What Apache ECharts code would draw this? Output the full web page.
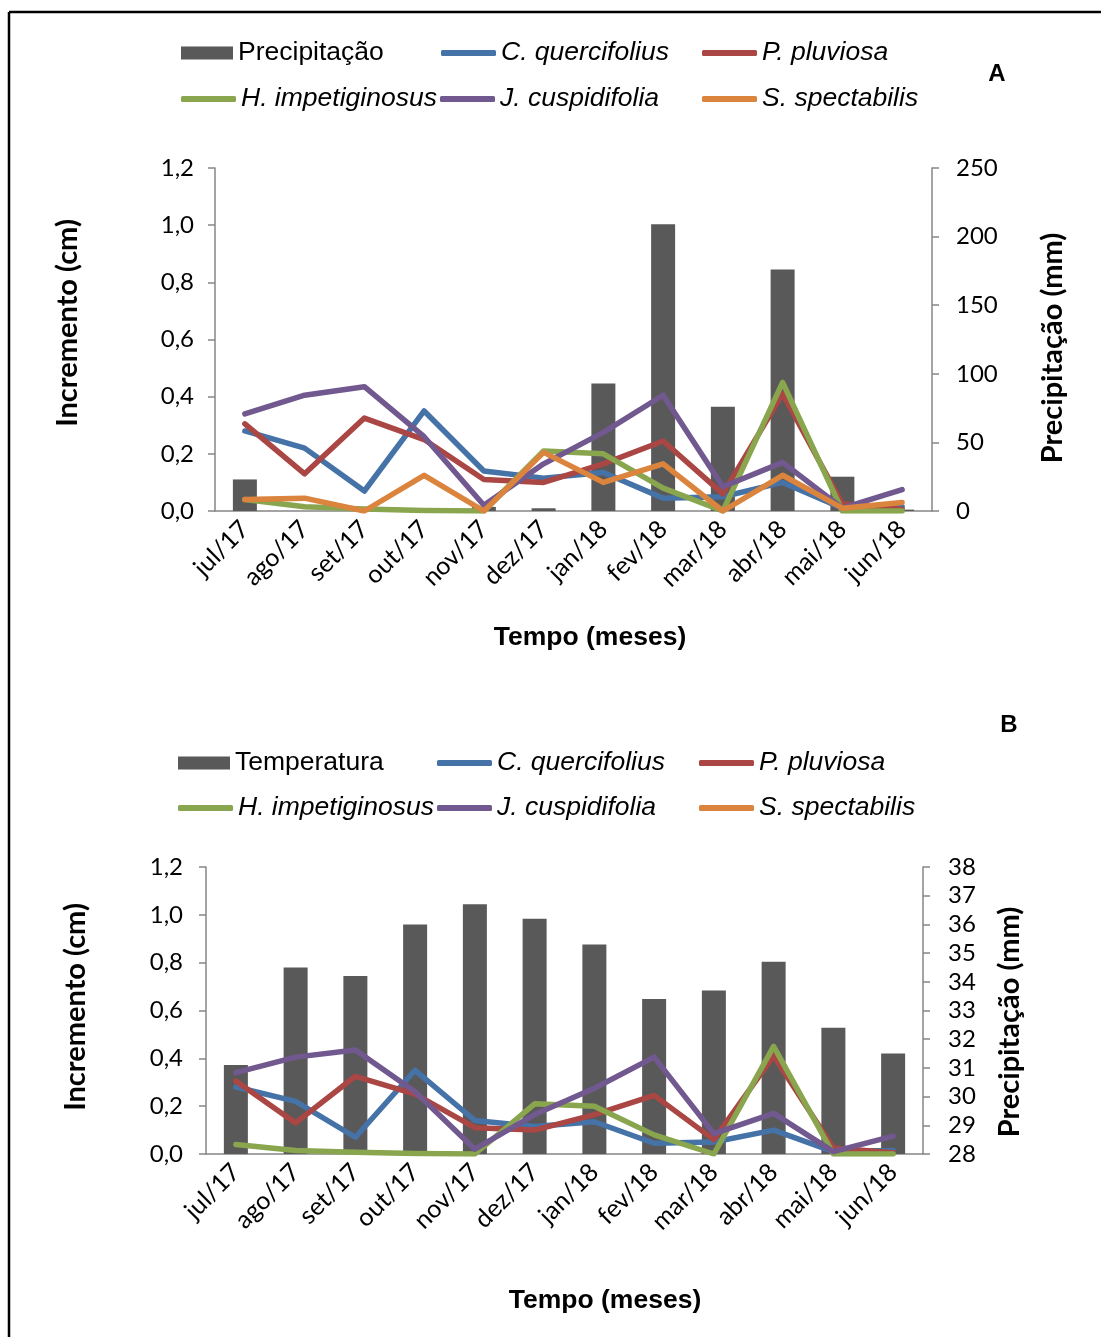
<!DOCTYPE html>
<html>
<head>
<meta charset="utf-8">
<script src="https://cdn.jsdelivr.net/npm/echarts@6/dist/echarts.min.js"></script>
<style>
  html, body { margin: 0; padding: 0; background: #fff; }
  #main { width: 1101px; height: 1337px; }
</style>
</head>
<body>
<div id="main"></div>
<script>
var months = ['jul/17', 'ago/17', 'set/17', 'out/17', 'nov/17', 'dez/17',
              'jan/18', 'fev/18', 'mar/18', 'abr/18', 'mai/18', 'jun/18'];

// chart A bars (mm) and chart B bars (temperature)
var precipitacao = [23, 0, 0, 0, 3, 2, 93, 209, 76, 176, 25, 1];
var temperatura = [31.1, 34.5, 34.2, 36.0, 36.7, 36.2, 35.3, 33.4, 33.7, 34.7, 32.4, 31.5];

// increment (cm) per species
var quercifolius = [0.28, 0.22, 0.07, 0.35, 0.14, 0.115, 0.135, 0.045, 0.05, 0.10, 0.01, 0.015];
var pluviosa = [0.305, 0.13, 0.325, 0.25, 0.11, 0.10, 0.165, 0.245, 0.06, 0.41, 0.025, 0.005];
var impetiginosus = [0.04, 0.015, 0.007, 0.002, 0.0, 0.21, 0.2, 0.08, 0.0, 0.45, 0.0, 0.0];
var cuspidifolia = [0.34, 0.405, 0.435, 0.26, 0.02, 0.165, 0.275, 0.405, 0.085, 0.17, 0.01, 0.075];
var spectabilis = [0.04, 0.045, 0.0, 0.125, 0.0, 0.205, 0.1, 0.165, 0.0, 0.125, 0.01, 0.03];

var leftTicks = [0, 1.2, 0.2];
var precTicks = [0, 250, 50];
var tempTicks = [28, 38, 1];

var species = [
    {name: 'C. quercifolius', data: quercifolius, color: '#4572A7'},
    {name: 'P. pluviosa', data: pluviosa, color: '#AA4643'},
    {name: 'H. impetiginosus', data: impetiginosus, color: '#89A54E'},
    {name: 'J. cuspidifolia', data: cuspidifolia, color: '#71588F'},
    {name: 'S. spectabilis', data: spectabilis, color: '#DB843D'}
];

var myChart = echarts.init(document.getElementById('main'));

var axisGray = '#868686';
var tickFont = 'Lato';

function leg(name, left, cy, isBar) {
    return {
        data: [name],
        left: left,
        top: cy - 13,
        padding: 0,
        selectedMode: false,
        icon: isBar ? 'rect' : 'roundRect',
        itemWidth: isBar ? 52 : 55,
        itemHeight: isBar ? 13 : 6,
        itemGap: 0,
        textStyle: {
            fontFamily: 'Liberation Sans',
            fontSize: 26.5,
            lineHeight: 30,
            color: '#000',
            fontStyle: isBar ? 'normal' : 'italic'
        }
    };
}

function catAxis(grid) {
    return {
        type: 'category',
        gridIndex: grid,
        data: months,
        axisLine: {lineStyle: {color: axisGray, width: 1.5}},
        axisTick: {length: 7, lineStyle: {color: axisGray, width: 1.5}},
        axisLabel: {
            rotate: 45, margin: 14, color: '#000',
            fontFamily: tickFont, fontSize: 25
        }
    };
}

function valAxis(grid, pos, ticks, fmt, margin) {
    return {
        type: 'value',
        gridIndex: grid,
        position: pos,
        min: ticks[0], max: ticks[1], interval: ticks[2],
        splitLine: {show: false},
        axisLine: {show: true, lineStyle: {color: axisGray, width: 1.5}},
        axisTick: {show: true, length: 7, lineStyle: {color: axisGray, width: 1.5}},
        axisLabel: {
            margin: margin, color: '#000',
            fontFamily: tickFont, fontSize: 24,
            formatter: fmt
        }
    };
}

var commaFmt = function (v) { return v.toFixed(1).replace('.', ','); };

var series = [
    {
        name: 'Precipitação', type: 'bar', xAxisIndex: 0, yAxisIndex: 1,
        data: precipitacao, barWidth: 24,
        itemStyle: {color: '#595959'}
    },
    {
        name: 'Temperatura', type: 'bar', xAxisIndex: 1, yAxisIndex: 3,
        data: temperatura, barWidth: 24,
        itemStyle: {color: '#595959'}
    }
];

species.forEach(function (s) {
    series.push({
        name: s.name, type: 'line', xAxisIndex: 0, yAxisIndex: 0,
        data: s.data, symbol: 'none', color: s.color,
        lineStyle: {width: 5.5, color: s.color, cap: 'round', join: 'round'}
    });
    // S. spectabilis is listed in legend B but not plotted there
    series.push({
        name: s.name, type: 'line', xAxisIndex: 1, yAxisIndex: 2,
        data: s.name === 'S. spectabilis' ? [] : s.data,
        symbol: 'none', color: s.color,
        lineStyle: {width: 5.5, color: s.color, cap: 'round', join: 'round'}
    });
});

function title(text, x, y, rot, font) {
    return {
        type: 'text', x: x, y: y, rotation: rot,
        style: {
            text: text, font: font, fill: '#000',
            align: 'center', verticalAlign: 'middle'
        }
    };
}

var option = {
    animation: false,
    backgroundColor: '#fff',
    grid: [
        {left: 215, right: 169, top: 168, height: 343},
        {left: 206, right: 178, top: 867, height: 287}
    ],
    xAxis: [catAxis(0), catAxis(1)],
    yAxis: [
        valAxis(0, 'left', leftTicks, commaFmt, 21),
        valAxis(0, 'right', precTicks, null, 24),
        valAxis(1, 'left', leftTicks, commaFmt, 23),
        valAxis(1, 'right', tempTicks, null, 25)
    ],
    legend: [
        leg('Precipitação', 181, 51, true),
        leg('C. quercifolius', 441, 51),
        leg('P. pluviosa', 702, 51),
        leg('H. impetiginosus', 181, 97),
        leg('J. cuspidifolia', 440, 97),
        leg('S. spectabilis', 702, 97),
        leg('Temperatura', 178, 761, true),
        leg('C. quercifolius', 437, 761),
        leg('P. pluviosa', 699, 761),
        leg('H. impetiginosus', 178, 806),
        leg('J. cuspidifolia', 437, 806),
        leg('S. spectabilis', 699, 806)
    ],
    graphic: [
        {type: 'line', shape: {x1: 9, y1: 12, x2: 1101, y2: 12}, style: {stroke: '#000', lineWidth: 2.5}},
        {type: 'line', shape: {x1: 9, y1: 12, x2: 9, y2: 1337}, style: {stroke: '#000', lineWidth: 2.5}},
        title('A', 997, 74, 0, 'bold 24px "Liberation Sans"'),
        title('B', 1009, 725, 0, 'bold 24px "Liberation Sans"'),
        title('Incremento (cm)', 68, 323, Math.PI / 2, 'bold 29px Lato'),
        title('Precipitação (mm)', 1053, 348, Math.PI / 2, 'bold 29px Lato'),
        title('Tempo (meses)', 590, 638, 0, 'bold 26.5px "Liberation Sans"'),
        title('Incremento (cm)', 76, 1007, Math.PI / 2, 'bold 29px Lato'),
        title('Precipitação (mm)', 1010, 1022, Math.PI / 2, 'bold 29px Lato'),
        title('Tempo (meses)', 605, 1301, 0, 'bold 26.5px "Liberation Sans"')
    ],
    series: series
};

myChart.setOption(option);
</script>
</body>
</html>
